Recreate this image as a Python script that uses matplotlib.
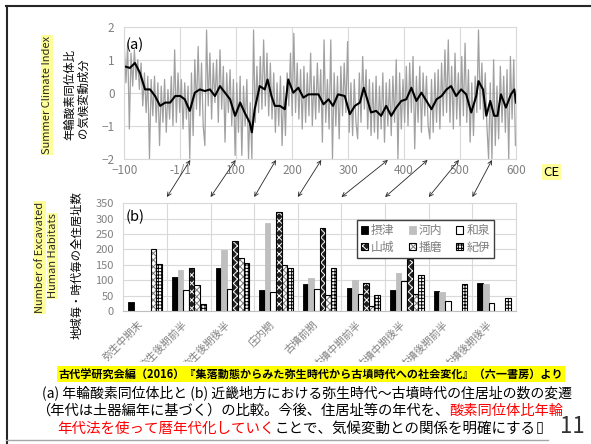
import matplotlib
matplotlib.use("Agg")
import matplotlib.pyplot as plt
import matplotlib.transforms as mtransforms
from matplotlib.patches import Patch, Rectangle, ConnectionPatch
from matplotlib.lines import Line2D
import numpy as np

plt.rcParams['font.family'] = ['Noto Sans CJK JP', 'DejaVu Sans']
plt.rcParams['hatch.linewidth'] = 0.7

# --- (a) 年輪酸素同位体比: 年ごとの値 (灰) と平滑値 (黒) ---
gray_years = np.arange(-100, 600, 3)
gray_vals = [
    1.4, 0.3, 1.5, -1.1, 1.2, 0.2, 1.3, 0.4, 1.0, 0.1,
    0.9, -0.4, 0.6, -0.6, 0.5, -2.0, 0.4, -0.7, 0.5, -0.9,
    0.3, -1.6, 0.2, -0.9, 0.4, -1.2, 0.1, -0.8, 0.5, -1.0,
    1.3, -0.9, 0.6, -0.6, 0.4, -1.1, 0.3, -0.8, 0.2, -2.0,
    0.6, -1.3, 1.0, -0.5, 1.4, -0.7, 0.9, -1.0, -1.6, 1.9,
    -0.4, 1.2, -0.8, 0.9, -0.3, 1.0, -0.9, 1.3, -0.5, 0.8,
    -1.5, 0.6, -0.6, 0.7, -1.0, 0.4, -1.9, 0.3, -1.2, 0.5,
    -1.9, 0.2, -1.0, 0.4, -2.0, -0.3, -2.0, 1.9, -0.9, 0.8,
    -0.6, 1.1, -0.5, 1.6, -0.4, 1.2, -0.7, 0.9, -0.8, 0.6,
    -1.2, 0.3, -1.0, 0.5, -1.6, 0.2, -1.3, 0.6, -0.4, 1.2,
    -0.7, 1.8, -0.6, 0.9, -0.8, 0.7, -1.1, 0.8, -0.9, 0.6,
    -0.7, 1.2, -1.0, 0.5, -0.8, 0.9, -0.6, 0.7, -1.5, 1.6,
    -0.9, 0.4, -1.1, 1.6, -2.0, 0.6, -1.0, 0.5, -1.4, 0.8,
    -0.7, 0.9, -0.6, 1.55, -1.2, 0.3, -1.3, 0.4, -0.9, -1.4,
    0.6, -0.9, 1.1, -0.5, 0.7, -1.1, 0.4, -1.3, 0.3, -1.2,
    0.5, -1.4, 0.2, -1.1, 0.6, -1.5, 0.3, -1.0, 0.4, -1.3,
    0.5, -0.9, 1.0, -2.0, 0.6, -1.1, 0.4, -0.9, 0.8, -1.0,
    0.9, -0.6, 1.1, -1.7, 0.5, -0.9, 0.8, -1.2, 0.6, -0.7,
    0.5, -1.0, -1.4, 0.4, -1.2, 0.6, -0.9, 0.7, -1.1, 0.9,
    -0.7, 1.3, -0.6, 1.6, -0.9, 0.8, -1.1, 1.2, -0.8, 0.6,
    -1.0, 1.1, -0.7, 1.5, -0.9, 0.7, -1.5, 0.3, -1.3, 0.5,
    -0.6, 1.9, -0.5, 0.9, -0.8, 0.6, -1.0, -2.0, 0.3, -2.0,
    1.0, -1.6, 0.2, -1.4, 0.8, -0.9, 0.5, -1.2, 0.7, -2.0,
    1.1, -0.8, 1.0, -1.6,
]
black_years = [-100, -90, -81, -72, -63, -54, -45, -36, -27, -18,
               -9, 0, 8, 17, 26, 35, 44, 53, 62, 71,
               80, 89, 98, 107, 115, 124, 128, 133, 142, 151,
               156, 163, 169, 178, 187, 193, 202, 211, 220, 229,
               238, 247, 256, 265, 273, 282, 294, 303, 312, 321,
               328, 335, 341, 350, 359, 368, 377, 386, 395, 404,
               413, 422, 431, 440, 449, 458, 467, 476, 484, 493,
               502, 511, 520, 529, 533, 541, 547, 554, 561, 567,
               573, 582, 591, 597, 600]
black_vals = [0.8, 0.75, 0.9, 0.6, 0.1, 0.1, -0.1, -0.4, -0.3, -0.3,
              -0.1, -0.1, -0.2, -0.55, 0.0, 0.1, 0.05, 0.1, -0.1, 0.2,
              0.0, -0.2, -0.7, -0.3, -0.6, -0.9, -1.2, -0.5, 0.2, 0.1,
              0.4, -0.1, -0.4, -0.4, -0.5, 0.4, 0.0, 0.15, -0.15, -0.05,
              -0.05, -0.05, -0.35, -0.2, -0.4, -0.05, -0.1, -0.65, -0.4, -0.3,
              0.15, -0.25, -0.6, -0.55, -0.7, -0.4, -0.7, -0.45, -0.25, -0.2,
              0.15, -0.25, 0.0, -0.25, -0.5, -0.2, -0.1, 0.1, 0.2, -0.1,
              0.1, -0.05, -0.6, -0.1, 0.35, 0.1, -0.7, -0.25, -0.7, -0.7,
              -0.05, -0.45, -0.05, 0.1, -0.3]
top_xticks = [-100, 0, 100, 200, 300, 400, 500, 600]
top_xlabels = ['\u2212100', '-1/1', '100', '200', '300', '400', '500', '600']
top_yticks = [-2, -1, 0, 1, 2]
top_ylabels = ['\u22122', '\u22121', '0', '1', '2']

# --- (b) 地域毎・時代毎の住居址数 ---
periods = ['弥生中期末', '弥生後期前半', '弥生後期後半', '庄内期', '古墳前期',
           '古墳中期前半', '古墳中期後半', '古墳後期前半', '古墳後期後半']
regions = ['摂津', '河内', '和泉', '山城', '播磨', '紀伊']
settsu = [30, 111, 141, 68, 87, 74, 67, 65, 91]
kawachi = [0, 133, 198, 287, 106, 101, 124, 61, 88]
izumi = [0, 68, 71, 61, 70, 56, 97, 31, 25]
yamashiro = [0, 139, 228, 321, 271, 90, 170, 0, 0]
harima = [203, 85, 171, 148, 52, 15, 56, 0, 0]
kii = [153, 23, 155, 141, 141, 53, 116, 89, 43]
bot_yticks = [0, 50, 100, 150, 200, 250, 300, 350]

# 年代の対応 (上: 暦年, 下: 時期の境目)
arrow_years = [18, 99, 171, 252, 371, 442, 498, 557]
arrow_bounds = [0.5, 1.5, 2.5, 3.5, 4.5, 5.5, 6.5, 7.5]

W, H = 591, 444
def fx(px):
    return px / W
def fy(py):
    return 1 - py / H

grid_c = '#d9d9d9'
tick_c = '#808080'

fig = plt.figure(figsize=(W / 100, H / 100), dpi=100)
fig.patch.set_facecolor('white')

# ---------- panel (a) ----------
ax1 = fig.add_axes([fx(124.3), fy(158.7), (516 - 124.3) / W, (158.7 - 26.7) / H])
ax1.plot(gray_years, gray_vals, color='#a0a0a0', lw=0.9)
ax1.plot(black_years, black_vals, color='black', lw=1.5)
ax1.set_xlim(-100, 600)
ax1.set_ylim(-2, 2)
ax1.set_xticks(top_xticks)
ax1.set_xticklabels(top_xlabels)
ax1.set_yticks(top_yticks)
ax1.set_yticklabels(top_ylabels)
ax1.set_axisbelow(True)
ax1.grid(color=grid_c, lw=0.8)
ax1.tick_params(axis='both', length=0, colors=tick_c, labelsize=8.5)
ax1.tick_params(axis='x', pad=4)
ax1.tick_params(axis='y', pad=7)
for s in ax1.spines.values():
    s.set_color(grid_c)
    s.set_linewidth(0.8)

# ---------- panel (b) ----------
ax2 = fig.add_axes([fx(123.3), fy(311), (516 - 123.3) / W, (311 - 203.3) / H])
x = np.arange(len(periods))
bw = 0.128
series = [settsu, kawachi, izumi, yamashiro, harima, kii]
for i, vals in enumerate(series):
    xs = x + (i - 2.5) * bw
    keep = [j for j, v in enumerate(vals) if v > 0]
    xs = xs[keep]
    hs = [vals[j] for j in keep]
    if i == 0:
        ax2.bar(xs, hs, bw, color='black', edgecolor='black', lw=0.6)
    elif i == 1:
        ax2.bar(xs, hs, bw, color='#bfbfbf', edgecolor='#bfbfbf', lw=0.6)
    elif i == 2:
        ax2.bar(xs, hs, bw, color='white', edgecolor='black', lw=0.8)
    elif i == 3:
        ax2.bar(xs, hs, bw, color='#202020', edgecolor='white', hatch='xxxx', lw=0)
        ax2.bar(xs, hs, bw, fill=False, edgecolor='black', lw=0.8)
    elif i == 4:
        ax2.bar(xs, hs, bw, color='white', edgecolor='#7a7a7a', hatch='xxxxx', lw=0)
        ax2.bar(xs, hs, bw, fill=False, edgecolor='black', lw=0.8)
    else:
        ax2.bar(xs, hs, bw, color='white', edgecolor='black', hatch='+++++', lw=0.8)

ax2.set_xlim(-0.5, len(periods) - 0.5)
ax2.set_ylim(0, 350)
ax2.set_yticks(bot_yticks)
ax2.set_xticks(x)
ax2.set_xticklabels(periods, rotation=45, ha='right', color='#8c8c8c', fontsize=7.5)
ax2.set_xticks(np.arange(len(periods) + 1) - 0.5, minor=True)
ax2.set_axisbelow(True)
ax2.grid(axis='y', color=grid_c, lw=0.8)
ax2.grid(axis='x', which='minor', color=grid_c, lw=0.8)
ax2.tick_params(axis='both', which='both', length=0, colors=tick_c)
ax2.tick_params(axis='y', labelsize=8, pad=7)
ax2.tick_params(axis='x', pad=6)
for s in ax2.spines.values():
    s.set_color(grid_c)
    s.set_linewidth(0.8)
ax2.spines['bottom'].set_color('#bfbfbf')

handles = [
    Patch(facecolor='black', edgecolor='black', lw=0.6),
    Patch(facecolor='#bfbfbf', edgecolor='#bfbfbf', lw=0.6),
    Patch(facecolor='white', edgecolor='black', lw=0.8),
    (Patch(facecolor='#202020', edgecolor='white', hatch='xxxx', lw=0),
     Patch(fill=False, edgecolor='black', lw=0.8)),
    (Patch(facecolor='white', edgecolor='#7a7a7a', hatch='xxxxx', lw=0),
     Patch(fill=False, edgecolor='black', lw=0.8)),
    Patch(facecolor='white', edgecolor='black', hatch='+++++', lw=0.8),
]
# legend fills column by column: reorder so rows read 摂津 河内 和泉 / 山城 播磨 紀伊
order = [0, 3, 1, 4, 2, 5]
leg = ax2.legend([handles[k] for k in order], [regions[k] for k in order], ncol=3,
                 loc='upper left',
                 bbox_to_anchor=(fx(356.7), fy(220)), bbox_transform=fig.transFigure,
                 borderaxespad=0, fontsize=8.5, handlelength=0.6, handleheight=0.6,
                 handletextpad=0.25, columnspacing=1.2, labelspacing=0.3,
                 borderpad=0.35, fancybox=False, framealpha=1, labelcolor='#7f7f7f')
leg.get_frame().set_edgecolor('#404040')
leg.get_frame().set_linewidth(1.0)

# ---------- arrows between the panels ----------
tA = mtransforms.blended_transform_factory(ax1.transData, fig.transFigure)
tB = mtransforms.blended_transform_factory(ax2.transData, fig.transFigure)
for yr, bd in zip(arrow_years, arrow_bounds):
    con = ConnectionPatch(xyA=(yr, fy(160)), coordsA=tA, xyB=(bd, fy(197)), coordsB=tB,
                          arrowstyle='<->', mutation_scale=7, shrinkA=0, shrinkB=0,
                          lw=0.6, color='#262626')
    fig.add_artist(con)

# ---------- labels ----------
ylab_box = dict(boxstyle='square,pad=0.05', fc='#ffff99', ec='none')
fig.text(fx(47), fy(95), 'Summer Climate Index', rotation=90, ha='center', va='center',
         fontsize=8, color='#262626', bbox=ylab_box)
fig.text(fx(70), fy(94), '年輪酸素同位体比', rotation=90, ha='center', va='center',
         fontsize=8.2, color='black')
fig.text(fx(83.5), fy(98), 'の気候変動成分', rotation=90, ha='center', va='center',
         fontsize=8.2, color='black')
fig.text(fx(40), fy(257.5), 'Number of Excavated', rotation=90, ha='center', va='center',
         fontsize=8, color='#262626', bbox=ylab_box)
fig.text(fx(52.5), fy(256), 'Human Habitats', rotation=90, ha='center', va='center',
         fontsize=8, color='#262626', bbox=ylab_box)
fig.text(fx(77), fy(265), '地域毎・時代毎の全住居址数', rotation=90, ha='center', va='center',
         fontsize=8.2, color='black')
fig.text(fx(126), fy(45), '(a)', ha='left', va='center', fontsize=10.5, color='black')
fig.text(fx(125.5), fy(216.5), '(b)', ha='left', va='center', fontsize=10.5, color='black')
fig.text(fx(551.5), fy(172), 'CE', ha='center', va='center', fontsize=9.5, color='black',
         bbox=dict(boxstyle='square,pad=0.1', fc='#ffff99', ec='none'))

# ---------- slide frame and lower text area ----------
fig.add_artist(Rectangle((fx(8), 0), 1, fy(362), transform=fig.transFigure,
                         fc='white', ec='none', zorder=3))
fig.add_artist(Line2D([fx(6), 1], [fy(6), fy(6)], color='#262626', lw=1.5, zorder=4))
fig.add_artist(Line2D([fx(6.5), fx(6.5)], [fy(6), 0], color='#262626', lw=1.5, zorder=4))
fig.add_artist(Line2D([fx(6), fx(548)], [fy(440), fy(440)], color='#a6a6a6', lw=1, zorder=4))

fig.text(fx(311), fy(374), '古代学研究会編（2016）『集落動態からみた弥生時代から古墳時代への社会変化』（六一書房）より',
         ha='center', va='center', fontsize=8, fontweight='bold', color='black', zorder=5,
         bbox=dict(boxstyle='square,pad=0.15', fc='#ffff00', ec='none'))

renderer = fig.canvas.get_renderer()

def put_line(x0, y0, parts, size=10.45):
    xp = x0
    for s, c in parts:
        t = fig.text(fx(xp), fy(y0), s, ha='left', va='center', fontsize=size, color=c, zorder=5)
        xp = t.get_window_extent(renderer).x1

red = '#ff0000'
put_line(42, 393, [('(a) 年輪酸素同位体比と (b) 近畿地方における弥生時代～古墳時代の住居址の数の変遷', 'black')],
         size=10.0)
put_line(36, 411, [('（年代は土器編年に基づく）の比較。今後、住居址等の年代を、', 'black'),
                   ('酸素同位体比年輪', red)], size=10.3)
put_line(57, 428.5, [('年代法を使って暦年代化していく', red),
                     ('ことで、気候変動との関係を明確にする', 'black'),
                     ('\u25af', 'black')])
fig.text(fx(572), fy(426.5), '11', ha='center', va='center', fontsize=16, color='#333333', zorder=5)

fig.savefig('out.png', dpi=100)
